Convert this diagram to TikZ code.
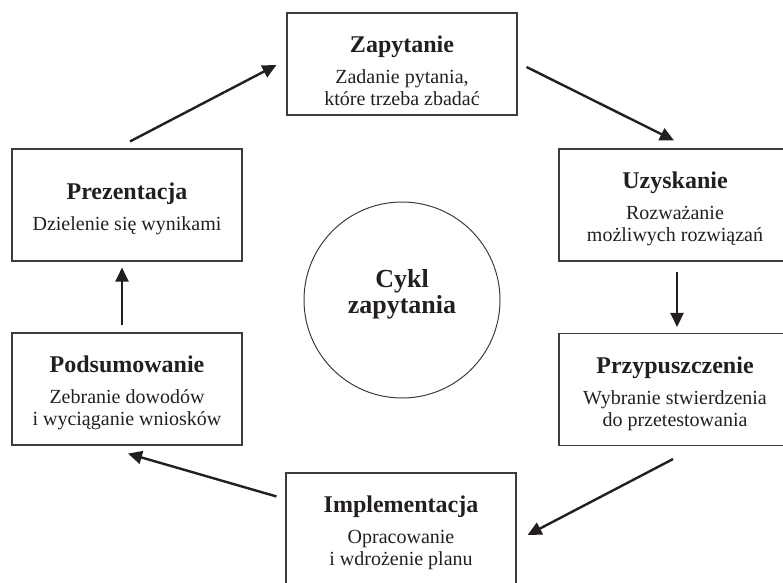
\documentclass[tikz,border=0pt]{standalone}
\usepackage{fontspec}
\setmainfont{Liberation Serif}
\usetikzlibrary{calc,arrows.meta}
\definecolor{ink}{HTML}{231F20}
\definecolor{frame}{HTML}{3C3C3C}
% title line of a box (the strut moves the text a little down)
\newcommand\ttl[2][25pt]{{\fontsize{24}{26}\selectfont\bfseries\rule{0pt}{#1}#2}}
\tikzset{
  box/.style={draw=frame, line width=1.1pt, text=ink, align=center,
    minimum width=230pt, minimum height=112pt, inner sep=0pt,
    font=\fontsize{20}{22}\selectfont},
  ring/.style={draw=frame, line width=1pt, circle, minimum size=196pt,
    text=ink, align=center, font=\fontsize{26}{26}\selectfont\bfseries},
  arr/.style={draw=ink, line width=2.4pt, -{Triangle[length=14pt,width=13pt]}},
}
\begin{document}
\begin{tikzpicture}[x=1pt,y=-1pt]
        \path[use as bounding box] (0,0) rectangle (783,582);
        \clip (0,0) rectangle (783,582);
        \node (zap) [box, minimum height=102pt] at (402,64) {\ttl[31pt]{Zapytanie}\\[9pt]Zadanie pytania,\\które trzeba zbadać};
        \node (uzy) [box, minimum width=232pt] at (675,205) {\ttl{Uzyskanie}\\[9pt]Rozważanie\\możliwych rozwiązań};
        \node (prz) [box, minimum width=232pt] at (675,389.5) {\ttl{Przypuszczenie}\\[9pt]Wybranie stwierdzenia\\do przetestowania};
        \node (imp) [box] at (401,529) {\ttl{Implementacja}\\[9pt]Opracowanie\\i wdrożenie planu};
        \node (pod) [box] at (127,389) {\ttl{Podsumowanie}\\[9pt]Zebranie dowodów\\i wyciąganie wniosków};
        \node (pre) [box] at (127,205) {\ttl{Prezentacja}\\[9pt]Dzielenie się wynikami};
        \node (cyk) [ring] at (402,300) {Cykl\\zapytania\rule[-17.6pt]{0pt}{17.6pt}};
        %\node (x) [below = of cyk] {};
        \draw[arr] ($(pre.north)+(3,-7)$) -- ($(zap.west)+(-10,1)$);
        \draw[arr] ($(zap.east)+(9,3)$) -- ($(uzy.north)+(-1,-8)$);
        \draw[arr] ($(uzy.south)+(2,10)$) -- ($(prz.north)+(2,-6)$);
        \draw[arr] ($(prz.south)+(-2,13)$) -- ($(imp.east)+(11,6)$);
        \draw[arr] ($(imp.north west)+(-9,24)$) -- ($(pod.south)+(1,8)$);
        \draw[arr] ($(pod.north)+(-5,-7)$) -- ($(pre.south)+(-5,6)$);
    \end{tikzpicture}
\end{document}
